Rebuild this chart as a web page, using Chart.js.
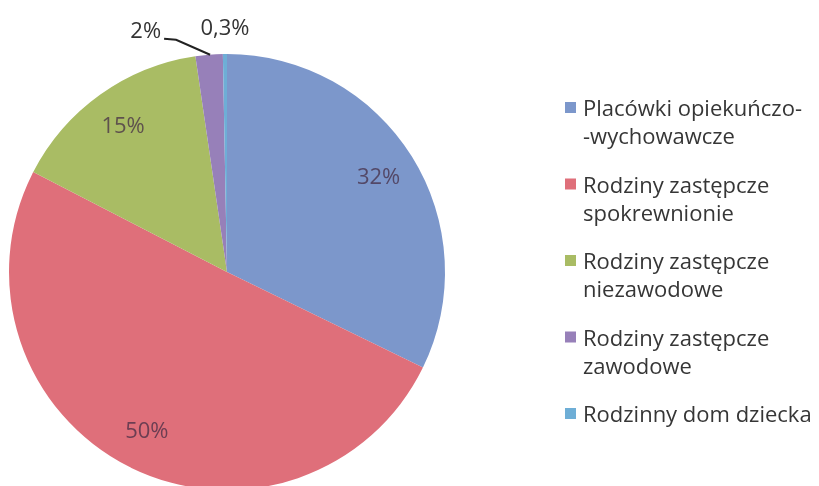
<!DOCTYPE html>
<html>
<head>
<meta charset="utf-8">
<script src="https://cdn.jsdelivr.net/npm/chart.js@4"></script>
<style>
    html, body { margin: 0; padding: 0; background: #fff; overflow: hidden; }
    #wrap { width: 819px; height: 486px; }
</style>
</head>
<body>
<div id="wrap"><canvas id="pieChart"></canvas></div>
<script>
    // legend entries, each split into the lines shown in the picture
    const categories = [
        ['Placówki opiekuńczo-', '-wychowawcze'],
        ['Rodziny zastępcze', 'spokrewnionie'],
        ['Rodziny zastępcze', 'niezawodowe'],
        ['Rodziny zastępcze', 'zawodowe'],
        ['Rodzinny dom dziecka']
    ];
    const shares = [32, 50, 15, 2, 0.3];
    const shareLabels = ['32%', '50%', '15%', '2%', '0,3%'];
    const sliceColors = ['#7c97cb', '#df6f7a', '#a9bc64', '#9780b9', '#6eaed6'];

    // percentage labels inside big slices, small ones outside the pie
    const sliceLabels = {
        id: 'sliceLabels',
        afterDatasetsDraw(chart) {
            const ctx = chart.ctx;
            const arcs = chart.getDatasetMeta(0).data;
            const total = shares.reduce((a, b) => a + b, 0);
            ctx.save();
            ctx.font = '22px "Open Sans"';
            arcs.forEach((arc, i) => {
                const p = arc.getProps(['x', 'y', 'startAngle', 'endAngle', 'outerRadius']);
                const mid = (p.startAngle + p.endAngle) / 2;
                if (shares[i] / total > 0.05) {
                    const r = p.outerRadius * 0.82;
                    ctx.fillStyle = 'rgba(70, 45, 70, 0.75)';
                    ctx.textAlign = 'center';
                    ctx.textBaseline = 'middle';
                    ctx.fillText(shareLabels[i], p.x + Math.cos(mid) * r, p.y + Math.sin(mid) * r);
                    return;
                }
                const ex = p.x + Math.cos(mid) * p.outerRadius;
                const ey = p.y + Math.sin(mid) * p.outerRadius;
                ctx.fillStyle = '#333';
                ctx.textBaseline = 'alphabetic';
                if (i === 3) {
                    // leader line for 2%
                    ctx.strokeStyle = '#222';
                    ctx.lineWidth = 2;
                    ctx.beginPath();
                    ctx.moveTo(ex + 1, ey);
                    ctx.lineTo(ex - 33, ey - 15);
                    ctx.lineTo(ex - 45, ey - 16);
                    ctx.stroke();
                    ctx.textAlign = 'right';
                    ctx.fillText(shareLabels[i], ex - 48, ey - 17);
                } else {
                    ctx.textAlign = 'center';
                    ctx.fillText(shareLabels[i], ex, ey - 19);
                }
            });
            ctx.restore();
        }
    };

    // legend on the right, two lines per entry
    const sideLegend = {
        id: 'sideLegend',
        afterDraw(chart) {
            const ctx = chart.ctx;
            const colors = chart.data.datasets[0].backgroundColor;
            ctx.save();
            ctx.font = '22px "Open Sans"';
            ctx.textAlign = 'left';
            ctx.textBaseline = 'alphabetic';
            chart.data.labels.forEach((lines, i) => {
                const base = 116 + i * 76.5;
                ctx.fillStyle = colors[i];
                ctx.fillRect(565, base - 14, 11, 11);
                ctx.fillStyle = '#363636';
                lines.forEach((line, j) => {
                    ctx.fillText(line, 583, base + j * 28);
                });
            });
            ctx.restore();
        }
    };

    new Chart(document.getElementById('pieChart'), {
        type: 'pie',
        data: {
            labels: categories,
            datasets: [{
                data: shares,
                backgroundColor: sliceColors,
                borderWidth: 0,
                radius: 218,
                clip: false
            }]
        },
        options: {
            responsive: true,
            maintainAspectRatio: false,
            animation: false,
            layout: { padding: { left: 9, right: 374, top: 58, bottom: 0 } },
            plugins: {
                legend: { display: false },
                tooltip: { enabled: false }
            }
        },
        plugins: [sliceLabels, sideLegend]
    });
</script>
</body>
</html>
